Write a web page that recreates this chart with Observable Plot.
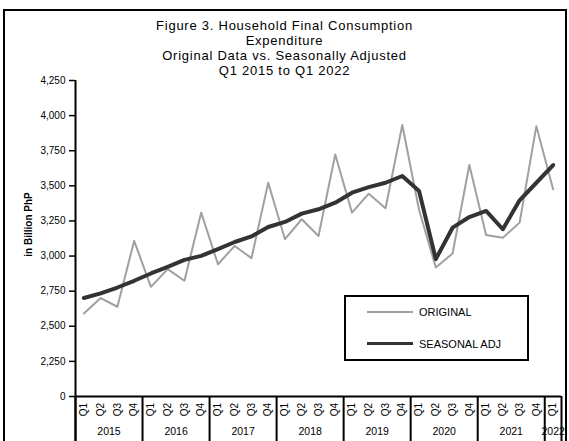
<!DOCTYPE html>
<html><head><meta charset="utf-8">
<script src="https://cdn.jsdelivr.net/npm/d3@7"></script>
<script src="https://cdn.jsdelivr.net/npm/@observablehq/plot@0.6"></script>
<style>
body{margin:0;width:569px;height:441px;overflow:hidden;background:#fff;font-family:"Liberation Sans",Arial,sans-serif;}
#wrap{position:relative;width:569px;height:441px;overflow:hidden;}
#chart{position:absolute;left:0;top:0;}
#frame{position:absolute;left:3px;top:9px;width:564px;height:500px;border:2px solid #000;box-sizing:border-box;pointer-events:none;}
#title{position:absolute;top:18px;left:0;width:569px;text-align:center;font-size:13px;line-height:15px;letter-spacing:0.75px;color:#000;}
#legend{position:absolute;left:344px;top:295px;width:185px;height:66px;border:2px solid #000;box-sizing:border-box;background:#fff;}
.sw{position:absolute;left:21px;width:46px;}
.lab{position:absolute;left:73px;font-size:11px;line-height:12px;color:#000;}
</style>
</head><body>
<div id="wrap">
  <div id="chart"></div>
  <div id="title">Figure 3. Household Final Consumption<br>Expenditure<br>Original Data vs. Seasonally Adjusted<br>Q1 2015 to Q1 2022</div>
  <div id="legend">
    <div class="sw" style="top:14px;height:2px;background:#a0a0a0"></div>
    <div class="lab" style="top:9px">ORIGINAL</div>
    <div class="sw" style="top:45px;height:3px;background:#333"></div>
    <div class="lab" style="top:41px">SEASONAL ADJ</div>
  </div>
  <div id="frame"></div>
</div>
<script>
const years = [2015, 2016, 2017, 2018, 2019, 2020, 2021, 2022];
const quarterNames = ["Q1", "Q2", "Q3", "Q4"];
const original = [2591, 2701, 2639, 3108, 2781, 2907, 2824, 3309, 2942, 3072, 2985, 3522, 3120, 3262, 3143, 3723, 3309, 3444, 3340, 3933, 3330, 2918, 3018, 3648, 3150, 3131, 3238, 3925, 3475];
const seasonal = [2701, 2734, 2776, 2824, 2876, 2923, 2973, 3001, 3049, 3100, 3140, 3207, 3243, 3302, 3333, 3380, 3451, 3491, 3522, 3570, 3463, 2978, 3202, 3278, 3321, 3191, 3397, 3522, 3648];
const yTicks = [2000, 2250, 2500, 2750, 3000, 3250, 3500, 3750, 4000, 4250];
const yTickLabels = ["0", "2,250", "2,500", "2,750", "3,000", "3,250", "3,500", "3,750", "4,000", "4,250"];

const rows = original.map((v, i) => ({i, q: quarterNames[i % 4], year: years[Math.floor(i / 4)], original: v, seasonal: seasonal[i]}));
const yearGroups = years.map(y => {
  const idx = rows.filter(r => r.year === y).map(r => r.i);
  return {year: String(y), start: idx[0] - 0.5, end: idx[idx.length - 1] + 0.5, mid: (idx[0] + idx[idx.length - 1]) / 2};
});
const seps = [...yearGroups.map(g => g.start), yearGroups[yearGroups.length - 1].end];

const chart = Plot.plot({
  width: 569, height: 441,
  marginTop: 80, marginBottom: 45, marginLeft: 75, marginRight: 8,
  style: {fontFamily: "'Liberation Sans', Arial, sans-serif", fontSize: "10px", background: "transparent", color: "#000", overflow: "visible"},
  x: {type: "linear", domain: [-0.5, rows.length - 0.5], axis: null},
  y: {domain: [2000, 4250], axis: null},
  marks: [
    Plot.axisY({ticks: yTicks, tickFormat: d => yTickLabels[yTicks.indexOf(d)], tickSize: 6, tickPadding: 4, strokeWidth: 1.5, label: null, fontSize: 10}),
    Plot.ruleY([2000], {strokeWidth: 2}),
    Plot.ruleX([-0.5], {strokeWidth: 2, insetBottom: -45}),
    Plot.ruleX(seps, {y1: 2000, y2: 2000, insetBottom: -45, strokeWidth: 2}),
    Plot.line(rows, {x: "i", y: "original", stroke: "#a0a0a0", strokeWidth: 2}),
    Plot.line(rows, {x: "i", y: "seasonal", stroke: "#333", strokeWidth: 4}),
    Plot.text(rows, {x: "i", text: "q", frameAnchor: "bottom", rotate: -90, dy: 13, textAnchor: "middle", lineAnchor: "middle", fontSize: 10}),
    Plot.text(yearGroups, {x: "mid", text: "year", frameAnchor: "bottom", dy: 35, lineAnchor: "middle", fontSize: 10.5}),
    Plot.text(["in Billion PhP"], {frameAnchor: "left", dx: -47, dy: -14, rotate: -90, textAnchor: "middle", lineAnchor: "middle", fontWeight: "bold", fontSize: 10})
  ]
});
document.getElementById("chart").appendChild(chart);
</script>
</body></html>
